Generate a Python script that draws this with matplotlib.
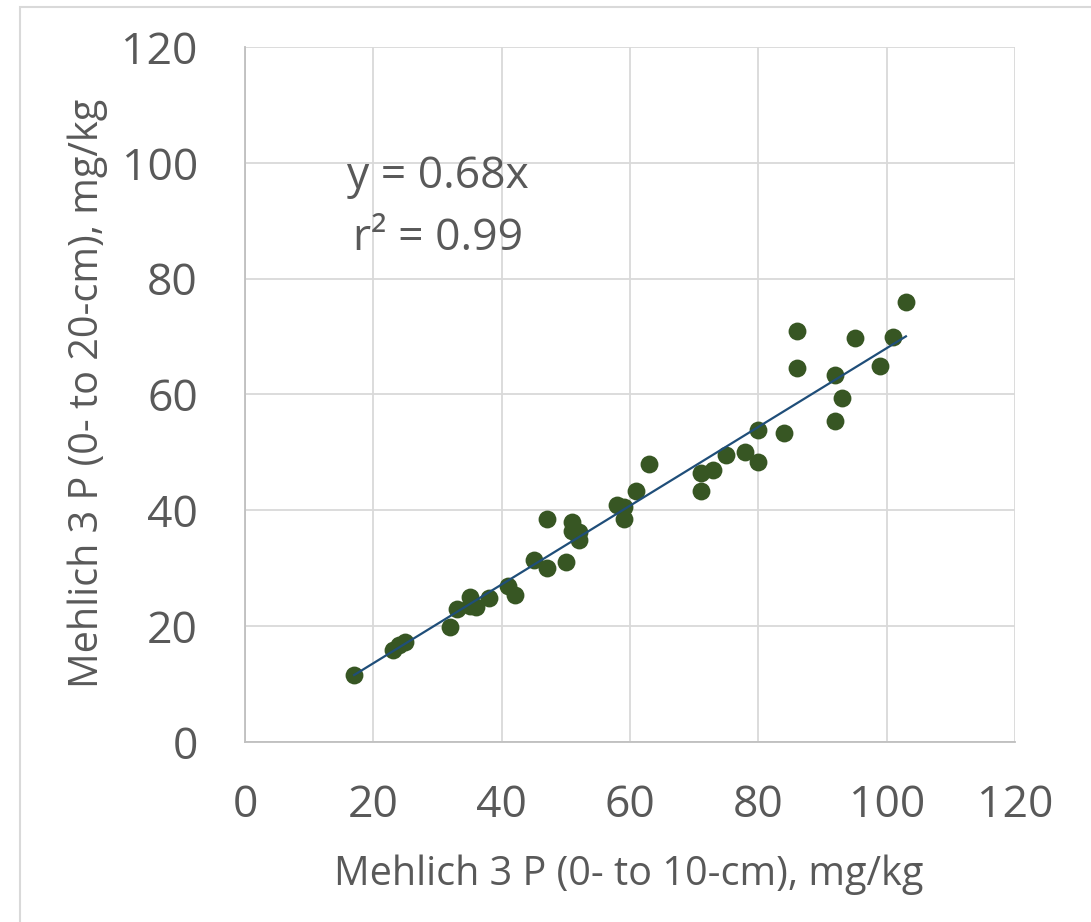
import numpy as np
import matplotlib
matplotlib.use("Agg")
import matplotlib.pyplot as plt
from matplotlib.patches import Rectangle

plt.rcParams["font.family"] = ["Open Sans", "DejaVu Sans"]

# Mehlich 3 P, 0-10 cm vs 0-20 cm
p_0_10 = [17, 23, 24, 25, 32, 33, 35, 35, 36, 38, 41, 42, 45, 47, 47, 50,
          51, 51, 52, 52, 58, 59, 59, 61, 63, 71, 71, 73, 75, 78, 80, 80,
          84, 86, 86, 92, 92, 93, 95, 99, 101, 103]
p_0_20 = [11.5, 15.9, 16.8, 17.3, 19.9, 22.9, 25.0, 23.4, 23.3, 24.9, 26.9, 25.3,
          31.4, 38.5, 30.0, 31.0, 38.0, 36.5, 36.3, 34.9, 41.0, 38.5, 40.6, 43.4,
          48.0, 46.5, 43.4, 47.0, 49.5, 50.0, 53.8, 48.4, 53.4, 71.0, 64.5, 63.4,
          55.4, 59.4, 69.8, 64.9, 69.9, 75.9]
slope = 0.68
ticks = [0, 20, 40, 60, 80, 100, 120]

grey = "#595959"

fig = plt.figure(figsize=(10.91, 9.22), dpi=100)
ax = fig.add_axes([245 / 1091, 1 - 742 / 922, 770 / 1091, 695 / 922])

# chart frame (cut off at right and bottom in the original)
fig.patches.append(Rectangle((20 / 1091, -0.1), 1.2, 1 - 7 / 922 + 0.1,
                             transform=fig.transFigure, fill=False,
                             edgecolor="#d9d9d9", linewidth=1.5))

ax.scatter(p_0_10, p_0_20, s=165, color="#375623", zorder=3, linewidths=0)
xs = np.array([min(p_0_10), max(p_0_10)])
ax.plot(xs, slope * xs, color="#1f4e79", linewidth=1.6, zorder=4)

ax.set_xlim(0, 120)
ax.set_ylim(0, 120)
ax.set_xticks(ticks)
ax.set_yticks(ticks)
ax.grid(True, color="#d9d9d9", linewidth=1.3)
ax.set_axisbelow(True)
for side in ["top", "right"]:
    ax.spines[side].set_visible(False)
for side in ["left", "bottom"]:
    ax.spines[side].set_color("#bfbfbf")
    ax.spines[side].set_linewidth(1.3)
ax.tick_params(length=0, labelsize=32, colors=grey, pad=30)
ax.tick_params(axis="y", pad=34)

ax.text(30.1, 95.7, "y = 0.68x", fontsize=32, color=grey, ha="center", va="baseline")
ax.text(30.1, 85.0, "r² = 0.99", fontsize=32, color=grey, ha="center", va="baseline")

fig.text(629 / 1091, 1 - 875 / 922, "Mehlich 3 P (0- to 10-cm), mg/kg",
         fontsize=28.5, color=grey, ha="center", va="center")
fig.text(88 / 1091, 1 - 393 / 922, "Mehlich 3 P (0- to 20-cm), mg/kg",
         fontsize=28.5, color=grey, ha="center", va="center", rotation=90)

fig.savefig("out.png", dpi=100)
